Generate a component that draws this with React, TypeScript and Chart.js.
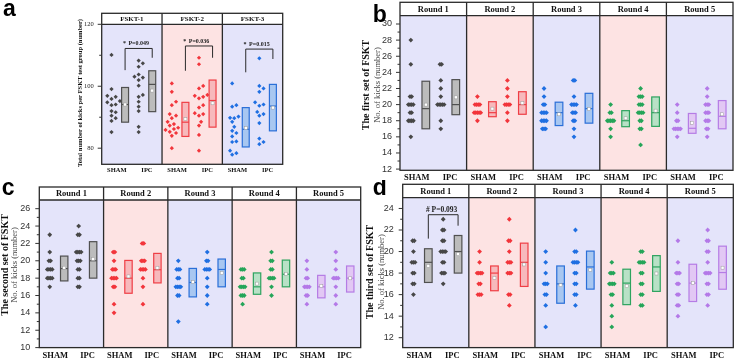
import { useEffect, useRef } from 'react';
import { Chart, registerables } from 'chart.js';

Chart.register(...registerables);

const SERIF = '"Liberation Serif", "Times New Roman", serif';
const SANS = '"Liberation Sans", Arial, sans-serif';

// ---------- categories ----------
const groupLabels = ['SHAM', 'IPC'];
const fsktLabels = ['FSKT-1', 'FSKT-2', 'FSKT-3'];
const roundLabels = ['Round 1', 'Round 2', 'Round 3', 'Round 4', 'Round 5'];

// ---------- a: total kicks per FSKT test group ----------
const totalSham = [
  [110.1, 99.1, 96.9, 96.6, 95.9, 95.2, 94.8, 94.1, 93.9, 92.0, 91.6, 90.5, 89.7, 88.8, 85.2],
  [100.9, 98.2, 95.0, 93.9, 91.0, 90.5, 89.7, 88.5, 87.8, 87.3, 86.6, 86.2, 85.9, 85.3, 84.9, 84.0, 80.0],
  [100.9, 93.9, 93.4, 90.2, 89.8, 89.7, 88.5, 86.9, 85.6, 84.9, 83.8, 82.2, 82.0, 79.2, 78.4, 77.9],
];
const totalIpc = [
  [108.3, 107.4, 106.3, 103.8, 103.1, 102.8, 102.0, 100.2, 97.2, 96.6, 95.0, 93.4, 92.0, 86.9, 85.2],
  [109.2, 107.1, 100.1, 99.3, 97.2, 96.9, 96.6, 96.1, 93.9, 93.1, 91.3, 91.0, 90.5, 88.5, 87.3, 84.3, 79.2],
  [109.0, 100.1, 99.3, 98.2, 94.8, 94.1, 93.7, 91.7, 91.0, 90.5, 88.1, 83.1, 82.0, 81.3],
];
// [box low, box high, median, mean]
const totalShamStats = [[88.4, 99.6, 94.1, 94.1], [83.8, 94.8, 88.4, 89.4], [80.4, 93.1, 86.1, 86.5]];
const totalIpcStats = [[91.8, 105.0, 100.6, 98.6], [86.8, 102.0, 95.4, 94.5], [85.6, 100.6, 93.6, 93.1]];
// [left foot, bar, right foot]
const totalBrackets = [[105.2, 112.2, 109.2], [105.0, 113.0, 109.2], [104.5, 112.0, 108.8]];
const totalPValues = ['P=0.049', 'P=0.036', 'P=0.015'];

// ---------- b: first set of FSKT ----------
const firstSham = [
  [28, 25, 21, 21, 20, 20, 20, 20, 19, 19, 18, 18, 18, 18, 16],
  [21, 20, 20, 20, 20, 19, 19, 19, 19, 19, 18],
  [22, 21, 20, 20, 19, 19, 19, 19, 18, 18, 18, 18, 17, 17, 17],
  [20, 19, 19, 18, 18, 18, 18, 18, 17, 16],
  [20, 19, 18, 18, 17, 17, 17, 17, 17, 16],
];
const firstIpc = [
  [25, 25, 23, 22, 21, 20, 20, 20, 20, 20, 18, 17],
  [23, 22, 21, 20, 20, 20, 20, 19, 18],
  [23, 23, 21, 20, 20, 20, 20, 19, 19, 19, 18, 18, 17, 16],
  [22, 21, 21, 21, 20, 20, 20, 19, 19, 19, 19, 18, 18, 17, 17, 15],
  [22, 21, 20, 20, 20, 19, 19, 19, 18, 18, 18, 17, 17, 16],
];
const firstShamStats = [[17.0, 22.9, 19.5, 20.0], [18.5, 20.36, 19.0, 19.5], [17.4, 20.3, 19.0, 18.8], [17.26, 19.25, 18.0, 18.3], [16.44, 18.9, 17.06, 17.75]];
const firstIpcStats = [[18.75, 23.1, 20.0, 20.9], [18.8, 21.6, 20.0, 20.2], [17.7, 21.4, 19.5, 19.45], [17.3, 20.95, 19.0, 19.25], [17.0, 20.5, 18.55, 18.8]];

// ---------- c: second set of FSKT ----------
const secondSham = [
  [23, 21, 20, 20, 19, 19, 19, 19, 18, 18, 18, 18, 17],
  [21, 21, 20, 19, 19, 19, 18, 18, 18, 18, 17, 17, 15, 14],
  [20, 19, 19, 19, 18, 18, 17, 17, 17, 17, 16, 16, 13],
  [19, 19, 19, 18, 18, 17, 17, 17, 17, 16, 16, 16, 15],
  [20, 19, 18, 18, 17, 17, 17, 17, 16, 16, 15],
];
const secondIpc = [
  [24, 23, 23, 21, 21, 21, 21, 20, 20, 20, 19, 19, 18, 18, 17, 17],
  [22, 22, 20, 20, 20, 19, 19, 19, 19, 18, 17, 15],
  [21, 20, 20, 19, 19, 19, 19, 18, 17, 16, 15],
  [21, 20, 20, 19, 19, 18, 18, 18, 18, 17, 16],
  [21, 20, 19, 18, 18, 18, 18, 17, 16, 15],
];
const secondShamStats = [[17.68, 20.54, 19.1, 19.2], [16.26, 20.04, 18.0, 18.2], [15.84, 19.12, 17.5, 17.56], [16.14, 18.6, 17.0, 17.37], [15.73, 18.32, 17.0, 17.1]];
const secondIpcStats = [[18.0, 22.2, 20.0, 20.2], [17.45, 20.85, 18.97, 19.2], [17.0, 20.2, 19.0, 18.6], [17.0, 20.08, 18.45, 18.5], [16.4, 19.4, 18.0, 17.98]];

// ---------- d: third set of FSKT ----------
const thirdSham = [
  [21, 21, 20, 19, 19, 19, 18, 18, 17, 17, 16],
  [20, 19, 18, 18, 18, 18, 17, 17, 16, 16, 16],
  [20, 19, 18, 17, 17, 17, 16, 16, 15, 13],
  [19, 18, 18, 18, 17, 17, 17, 17, 16, 16, 15, 14, 13],
  [21, 19, 18, 18, 18, 17, 17, 16, 16, 15, 15, 14],
];
const thirdIpc = [
  [23, 22, 22, 21, 21, 20, 20, 20, 20, 19, 19, 18, 18, 18, 17],
  [23, 21, 21, 20, 19, 19, 19, 18, 18, 18, 16, 16, 15],
  [22, 20, 20, 19, 19, 19, 19, 18, 18, 17, 17, 16, 16, 15],
  [20, 20, 19, 19, 19, 19, 18, 18, 17, 17, 16, 16, 15, 15],
  [22, 21, 21, 20, 20, 19, 18, 18, 18, 18, 17, 17, 16, 16, 15],
];
const thirdShamStats = [[17.13, 20.26, 19.0, 18.66], [16.36, 18.66, 18.0, 17.55], [15.2, 18.66, 17.0, 16.88], [15.07, 18.36, 17.07, 16.79], [15.36, 18.82, 17.07, 17.1]];
const thirdIpcStats = [[18.0, 21.49, 20.0, 19.76], [16.76, 20.78, 19.0, 18.8], [16.51, 20.04, 18.57, 18.3], [16.3, 19.62, 18.57, 17.96], [16.5, 20.5, 18.05, 18.5]];
const thirdBrackets = [[21.2, 23.42, 22.4]];
const thirdPValues = ['P=0.093'];

// ---------- styling ----------
const LAVENDER = '#e4e4fa';
const PINK = '#fde3e3';
const FRAME = '#2a2a2a';
const PALETTE = [
  { dot: '#474747', line: '#505050', fill: '#bcbcbc' },
  { dot: '#f2353b', line: '#ef3e45', fill: '#f7b9bc' },
  { dot: '#1f6fe2', line: '#2a6fd8', fill: '#a8c7f1' },
  { dot: '#25a559', line: '#2ea35f', fill: '#b8e1c6' },
  { dot: '#b479e8', line: '#b57ce5', fill: '#e2c8f4' },
];

// positions of a group inside one facet (facet spans 4 x-units)
const DOT_POS = [0.65, 2.45];
const BOX_POS = [1.55, 3.35];
const BOX_HALF = 0.23;

type Bracket = { facet: number; feet: number[]; mark: string; text: string };
type PanelCfg = {
  key: string;
  letter: string;
  letterPos: [number, number];
  letterSize: number;
  left: number; top: number; width: number; height: number;
  area: { l: number; r: number; t: number; b: number };
  headerH: number;
  headerSize: number;
  facets: string[];
  colors: number[];
  sham: number[][]; ipc: number[][];
  shamStats: number[][]; ipcStats: number[][];
  yMin: number; yMax: number; yMajor: number[]; yMinor: number[];
  yFont: { family: string; size: number }; yColor: string; yPad: number;
  xSize: number; xPad: number;
  titles: { text: string; x: number; font: string; color: string }[];
  titleY: number;
  dotR: number; gap: number;
  brackets: Bracket[];
  bracketFont: number;
};

const range = (a: number, b: number, step: number) => {
  const out: number[] = [];
  for (let v = a; v <= b + 1e-9; v += step) out.push(+v.toFixed(4));
  return out;
};

const PANELS: PanelCfg[] = [
  {
    key: 'a', letter: 'a', letterPos: [3, 16], letterSize: 23,
    left: 0, top: 0, width: 300, height: 180,
    area: { l: 101.7, r: 282.7, t: 24.3, b: 164.3 },
    headerH: 11, headerSize: 7,
    facets: fsktLabels, colors: [0, 1, 2],
    sham: totalSham, ipc: totalIpc, shamStats: totalShamStats, ipcStats: totalIpcStats,
    yMin: 74.8, yMax: 120, yMajor: [80, 100, 120], yMinor: [90, 110],
    yFont: { family: SERIF, size: 6.5 }, yColor: '#222', yPad: 8,
    xSize: 6.5, xPad: 2.5,
    titles: [{ text: 'Total number of kicks per FSKT test group (number)', x: 80, font: `bold 6.5px ${SERIF}`, color: '#111' }],
    titleY: 93,
    dotR: 2.1, gap: 4.2,
    brackets: totalBrackets.map((f, k) => ({ facet: k, feet: f, mark: '*', text: totalPValues[k] })),
    bracketFont: 6,
  },
  {
    key: 'b', letter: 'b', letterPos: [12.7, 21.7], letterSize: 23,
    left: 360, top: 0, width: 376, height: 185,
    area: { l: 40, r: 373, t: 15.7, b: 170.3 },
    headerH: 13.4, headerSize: 8.5,
    facets: roundLabels, colors: [0, 1, 2, 3, 4],
    sham: firstSham, ipc: firstIpc, shamStats: firstShamStats, ipcStats: firstIpcStats,
    yMin: 11.85, yMax: 31.03, yMajor: range(12, 30, 2), yMinor: range(13, 29, 2),
    yFont: { family: SANS, size: 9 }, yColor: '#333', yPad: 8,
    xSize: 8.5, xPad: 2,
    titles: [
      { text: 'The first set of FSKT', x: 6.7, font: `bold 10px ${SERIF}`, color: '#111' },
      { text: 'No. of kicks (number)', x: 17.3, font: `8.5px ${SERIF}`, color: '#444' },
    ],
    titleY: 85,
    dotR: 2.4, gap: 1.65,
    brackets: [],
    bracketFont: 7.5,
  },
  {
    key: 'c', letter: 'c', letterPos: [1.7, 13], letterSize: 23,
    left: 0, top: 182, width: 365, height: 180,
    area: { l: 39.3, r: 360.7, t: 18, b: 166.3 },
    headerH: 13, headerSize: 8.5,
    facets: roundLabels, colors: [0, 1, 2, 3, 4],
    sham: secondSham, ipc: secondIpc, shamStats: secondShamStats, ipcStats: secondIpcStats,
    yMin: 10, yMax: 27, yMajor: range(10, 26, 2), yMinor: range(11, 25, 2),
    yFont: { family: SANS, size: 9 }, yColor: '#333', yPad: 9,
    xSize: 8.5, xPad: 3.5,
    titles: [
      { text: 'The second set of FSKT', x: 5.5, font: `bold 10px ${SERIF}`, color: '#111' },
      { text: 'No. of kicks (number)', x: 14.5, font: `8.5px ${SERIF}`, color: '#444' },
    ],
    titleY: 83,
    dotR: 2.4, gap: 1.65,
    brackets: [],
    bracketFont: 7.5,
  },
  {
    key: 'd', letter: 'd', letterPos: [7.7, 15], letterSize: 23,
    left: 365, top: 180, width: 371, height: 182,
    area: { l: 37.7, r: 368.3, t: 17.7, b: 169 },
    headerH: 13.4, headerSize: 8.5,
    facets: roundLabels, colors: [0, 1, 2, 3, 4],
    sham: thirdSham, ipc: thirdIpc, shamStats: thirdShamStats, ipcStats: thirdIpcStats,
    yMin: 11.08, yMax: 25, yMajor: range(12, 24, 2), yMinor: range(13, 23, 2),
    yFont: { family: SANS, size: 9 }, yColor: '#333', yPad: 9,
    xSize: 8.5, xPad: 3.5,
    titles: [
      { text: 'The third set of FSKT', x: 5.7, font: `bold 10px ${SERIF}`, color: '#111' },
      { text: 'No. of kicks (number)', x: 16.7, font: `8.5px ${SERIF}`, color: '#444' },
    ],
    titleY: 92,
    dotR: 2.4, gap: 1.65,
    brackets: thirdBrackets.map((f, k) => ({ facet: k, feet: f, mark: '#', text: thirdPValues[k] })),
    bracketFont: 7.5,
  },
];

// Beeswarm offsets (x-units) so that tied / close values sit side by side.
function swarm(values: number[], pxX: number, pxY: number, gap: number): number[] {
  const order = values.map((_, i) => i).sort((a, b) => values[a] - values[b]);
  const offs = new Array(values.length).fill(0);
  const placed: { o: number; y: number }[] = [];
  for (const i of order) {
    const yp = values[i] * pxY;
    for (let k = 0; k < 400; k++) {
      const o = Math.ceil(k / 2) * (k % 2 ? 1 : -1) * gap * 0.5;
      if (placed.every((p) => Math.hypot(p.o - o, p.y - yp) >= gap - 1e-6)) {
        offs[i] = o;
        placed.push({ o, y: yp });
        break;
      }
    }
  }
  const ties = new Map<number, number[]>();
  values.forEach((v, i) => {
    if (!ties.has(v)) ties.set(v, []);
    ties.get(v)!.push(i);
  });
  ties.forEach((ids) => {
    if (ids.length > 1) {
      const m = ids.reduce((s, i) => s + offs[i], 0) / ids.length;
      ids.forEach((i) => (offs[i] -= m));
    }
  });
  return offs.map((o) => o / pxX);
}

function facetPlugin(p: PanelCfg) {
  return {
    id: 'facets' + p.key,
    beforeDraw(chart: any) {
      const { ctx, chartArea: a, scales } = chart;
      const x = scales.x;
      ctx.save();
      p.facets.forEach((_, k) => {
        const x0 = x.getPixelForValue(4 * k);
        const x1 = x.getPixelForValue(4 * k + 4);
        ctx.fillStyle = k % 2 === 0 ? LAVENDER : PINK;
        ctx.fillRect(x0, a.top, x1 - x0, a.bottom - a.top);
      });
      ctx.restore();
    },
    afterDatasetsDraw(chart: any) {
      const { ctx, scales } = chart;
      const x = scales.x;
      const y = scales.y;
      ctx.save();
      p.facets.forEach((_, k) => {
        const col = PALETTE[p.colors[k]];
        [p.shamStats[k], p.ipcStats[k]].forEach((st, g) => {
          const [lo, hi, med, mean] = st;
          const xl = x.getPixelForValue(4 * k + BOX_POS[g] - BOX_HALF);
          const xr = x.getPixelForValue(4 * k + BOX_POS[g] + BOX_HALF);
          const yt = y.getPixelForValue(hi);
          const yb = y.getPixelForValue(lo);
          ctx.fillStyle = col.fill;
          ctx.fillRect(xl, yt, xr - xl, yb - yt);
          ctx.strokeStyle = col.line;
          ctx.lineWidth = 1.2;
          ctx.strokeRect(xl, yt, xr - xl, yb - yt);
          const ym = y.getPixelForValue(med);
          ctx.beginPath();
          ctx.moveTo(xl, ym);
          ctx.lineTo(xr, ym);
          ctx.stroke();
          const xc = x.getPixelForValue(4 * k + BOX_POS[g]);
          const ya = y.getPixelForValue(mean);
          ctx.fillStyle = '#ffffff';
          ctx.fillRect(xc - 1.5, ya - 1.5, 3, 3);
          ctx.lineWidth = 0.5;
          ctx.strokeStyle = '#9a9a9a';
          ctx.strokeRect(xc - 1.5, ya - 1.5, 3, 3);
        });
      });
      // significance brackets
      p.brackets.forEach((br) => {
        const xl = x.getPixelForValue(4 * br.facet + BOX_POS[0]);
        const xr = x.getPixelForValue(4 * br.facet + BOX_POS[1]);
        const [fl, bar, fr] = br.feet;
        const yb = y.getPixelForValue(bar);
        ctx.strokeStyle = '#2a2a2a';
        ctx.lineWidth = 1;
        ctx.beginPath();
        ctx.moveTo(xl, y.getPixelForValue(fl));
        ctx.lineTo(xl, yb);
        ctx.lineTo(xr, yb);
        ctx.lineTo(xr, y.getPixelForValue(fr));
        ctx.stroke();
        ctx.fillStyle = '#222';
        ctx.textAlign = 'left';
        ctx.textBaseline = 'alphabetic';
        ctx.font = `bold ${p.bracketFont}px ${SERIF}`;
        ctx.fillText(br.mark, xl - 2.2, yb - 3);
        ctx.fillText(br.text, xl + 3.3, yb - 3);
      });
      ctx.restore();
    },
    afterDraw(chart: any) {
      const { ctx, chartArea: a, scales } = chart;
      const x = scales.x;
      const y = scales.y;
      ctx.save();
      // header strip
      const top = a.top - p.headerH;
      ctx.fillStyle = '#ffffff';
      ctx.fillRect(a.left, top, a.right - a.left, p.headerH);
      ctx.fillStyle = '#111';
      ctx.font = `bold ${p.headerSize}px ${SERIF}`;
      ctx.textAlign = 'center';
      ctx.textBaseline = 'middle';
      p.facets.forEach((name, k) => {
        ctx.fillText(name, x.getPixelForValue(4 * k + 2), top + p.headerH / 2 + 0.5);
      });
      // frame and facet dividers
      ctx.strokeStyle = FRAME;
      ctx.lineWidth = 1.3;
      ctx.strokeRect(a.left, top, a.right - a.left, a.bottom - top);
      ctx.beginPath();
      ctx.moveTo(a.left, a.top);
      ctx.lineTo(a.right, a.top);
      for (let k = 1; k < p.facets.length; k++) {
        const xv = x.getPixelForValue(4 * k);
        ctx.moveTo(xv, top);
        ctx.lineTo(xv, a.bottom);
      }
      ctx.stroke();
      // y tick marks
      ctx.lineWidth = 1;
      ctx.strokeStyle = '#333';
      ctx.beginPath();
      p.yMajor.forEach((v) => {
        const yy = y.getPixelForValue(v);
        ctx.moveTo(a.left - 4, yy);
        ctx.lineTo(a.left, yy);
      });
      p.yMinor.forEach((v) => {
        const yy = y.getPixelForValue(v);
        ctx.moveTo(a.left - 2.5, yy);
        ctx.lineTo(a.left, yy);
      });
      ctx.stroke();
      // y titles
      p.titles.forEach((t) => {
        ctx.save();
        ctx.translate(t.x, p.titleY);
        ctx.rotate(-Math.PI / 2);
        ctx.font = t.font;
        ctx.fillStyle = t.color;
        ctx.textAlign = 'center';
        ctx.textBaseline = 'middle';
        ctx.fillText(t.text, 0, 0);
        ctx.restore();
      });
      // panel letter
      ctx.font = `bold ${p.letterSize}px ${SANS}`;
      ctx.fillStyle = '#000';
      ctx.textAlign = 'left';
      ctx.textBaseline = 'alphabetic';
      ctx.fillText(p.letter, p.letterPos[0], p.letterPos[1]);
      ctx.restore();
    },
  };
}

function buildConfig(p: PanelCfg): any {
  const n = p.facets.length;
  const a = p.area;
  const pxX = (a.r - a.l) / (4 * n);
  const pxY = (a.b - a.t) / (p.yMax - p.yMin);
  const datasets: any[] = [];
  p.facets.forEach((_, k) => {
    const col = PALETTE[p.colors[k]];
    [p.sham[k], p.ipc[k]].forEach((vals, g) => {
      const offs = swarm(vals, pxX, pxY, p.gap);
      datasets.push({
        label: `${p.facets[k]} ${groupLabels[g]}`,
        data: vals.map((v, i) => ({ x: 4 * k + DOT_POS[g] + offs[i], y: v })),
        pointStyle: 'rectRot',
        pointRadius: p.dotR,
        pointHoverRadius: p.dotR,
        backgroundColor: col.dot,
        borderWidth: 0,
      });
    });
  });
  const xTicks = p.facets.flatMap((_, k) => [4 * k + 1, 4 * k + 3]);
  return {
    type: 'scatter',
    data: { datasets },
    options: {
      responsive: false,
      maintainAspectRatio: false,
      animation: false,
      events: [],
      layout: { padding: { left: 0, top: a.t, right: p.width - a.r, bottom: 0 } },
      plugins: { legend: { display: false }, tooltip: { enabled: false } },
      scales: {
        x: {
          type: 'linear',
          min: 0,
          max: 4 * n,
          grid: { display: false, drawTicks: false, tickLength: 0 },
          border: { display: false },
          afterBuildTicks: (s: any) => {
            s.ticks = xTicks.map((v) => ({ value: v }));
          },
          afterFit: (s: any) => {
            s.height = p.height - a.b;
          },
          ticks: {
            autoSkip: false,
            maxRotation: 0,
            minRotation: 0,
            padding: p.xPad,
            color: '#111',
            font: { family: SERIF, size: p.xSize, weight: 'bold' },
            callback: (v: number) => groupLabels[Math.round((v - 1) / 2) % 2],
          },
        },
        y: {
          type: 'linear',
          min: p.yMin,
          max: p.yMax,
          grid: { display: false, drawTicks: false, tickLength: 0 },
          border: { display: false },
          afterBuildTicks: (s: any) => {
            s.ticks = p.yMajor.map((v) => ({ value: v }));
          },
          afterFit: (s: any) => {
            s.width = a.l;
          },
          ticks: {
            padding: p.yPad,
            color: p.yColor,
            font: p.yFont,
            callback: (v: number) => String(v),
          },
        },
      },
    },
    plugins: [facetPlugin(p)],
  };
}

function Panel({ cfg }: { cfg: PanelCfg }) {
  const ref = useRef<HTMLCanvasElement>(null);
  useEffect(() => {
    if (!ref.current) return;
    const chart = new Chart(ref.current, buildConfig(cfg));
    return () => chart.destroy();
  }, [cfg]);
  return (
    <canvas
      ref={ref}
      width={cfg.width}
      height={cfg.height}
      style={{ position: 'absolute', left: cfg.left, top: cfg.top, width: cfg.width, height: cfg.height }}
    />
  );
}

export default function App() {
  return (
    <div style={{ position: 'fixed', left: 0, top: 0, width: 736, height: 362, background: '#ffffff', overflow: 'hidden' }}>
      {PANELS.map((p) => (
        <Panel key={p.key} cfg={p} />
      ))}
    </div>
  );
}
